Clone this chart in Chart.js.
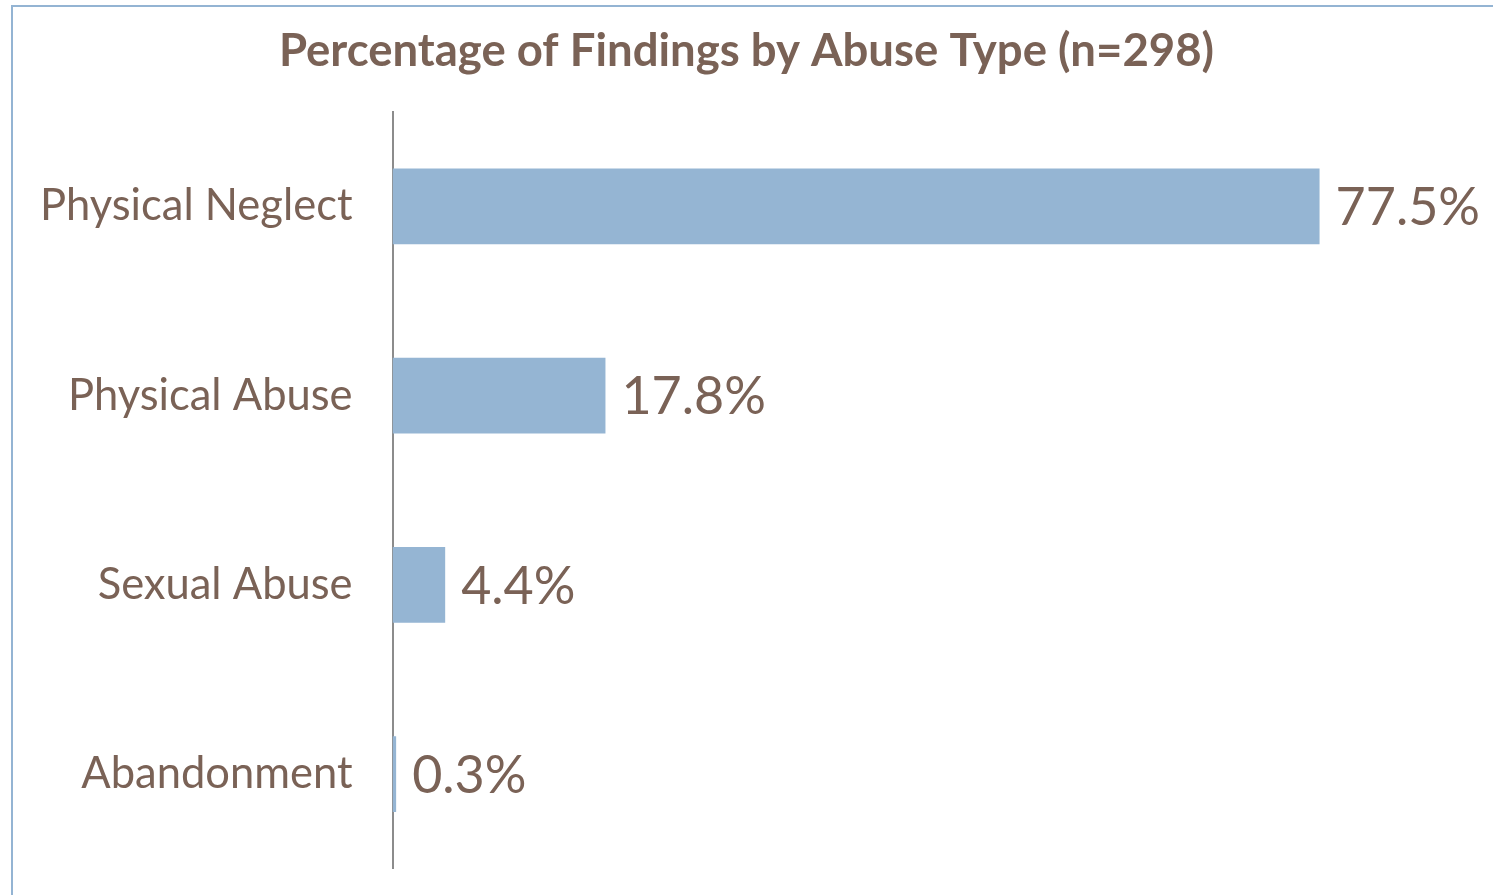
<!DOCTYPE html>
<html>
<head>
<meta charset="utf-8">
<script src="https://cdn.jsdelivr.net/npm/chart.js"></script>
<style>
  html, body { margin: 0; padding: 0; background: #fff; overflow: hidden; }
  #frame {
    position: absolute; left: 11px; top: 5px; width: 1500px; height: 900px;
    border: 2px solid #94b4d3; box-sizing: border-box;
  }
  #chart { position: absolute; left: 0; top: 0; }
</style>
</head>
<body>
<div id="frame"></div>
<canvas id="chart" width="1493" height="895"></canvas>
<script>
const categories = ['Physical Neglect', 'Physical Abuse', 'Sexual Abuse', 'Abandonment'];
const percentages = [77.5, 17.8, 4.4, 0.3];

const textColor = '#7a6256';
const barColor = '#95b5d3';

// writes the value next to the end of each bar
const valueLabels = {
  id: 'valueLabels',
  afterDatasetsDraw(chart) {
    const ctx = chart.ctx;
    const meta = chart.getDatasetMeta(0);
    ctx.save();
    ctx.font = '52px Lato';
    ctx.fillStyle = textColor;
    ctx.textAlign = 'left';
    ctx.textBaseline = 'middle';
    meta.data.forEach((bar, i) => {
      ctx.fillText(percentages[i].toFixed(1) + '%', bar.x + 16, bar.y + 2);
    });
    ctx.restore();
  }
};

new Chart(document.getElementById('chart'), {
  type: 'bar',
  data: {
    labels: categories,
    datasets: [{
      data: percentages,
      backgroundColor: barColor,
      borderWidth: 0,
      barPercentage: 0.8,
      categoryPercentage: 0.5
    }]
  },
  options: {
    indexAxis: 'y',
    responsive: false,
    animation: false,
    layout: { padding: { left: 0, right: 0, top: 0, bottom: 20 } },
    plugins: {
      legend: { display: false },
      tooltip: { enabled: false },
      title: {
        display: true,
        text: 'Percentage of Findings by Abuse Type (n=298)',
        color: textColor,
        font: { family: 'Lato', size: 45.5, weight: 'bold' },
        padding: { top: 24, bottom: 33 }
      }
    },
    scales: {
      x: {
        display: false,
        min: 0,
        max: 92
      },
      y: {
        // invisible tick marks give the gap between labels and axis line
        grid: { display: true, drawOnChartArea: false, drawTicks: true, tickLength: 40, color: 'rgba(0,0,0,0)' },
        border: { display: true, color: '#8c8c8c', width: 2 },
        ticks: {
          color: textColor,
          font: { family: 'Lato', size: 43.5 },
          padding: 0
        },
        afterFit(scale) {
          scale.width += 40; // room left of the labels
        }
      }
    }
  },
  plugins: [valueLabels]
});
</script>
</body>
</html>
